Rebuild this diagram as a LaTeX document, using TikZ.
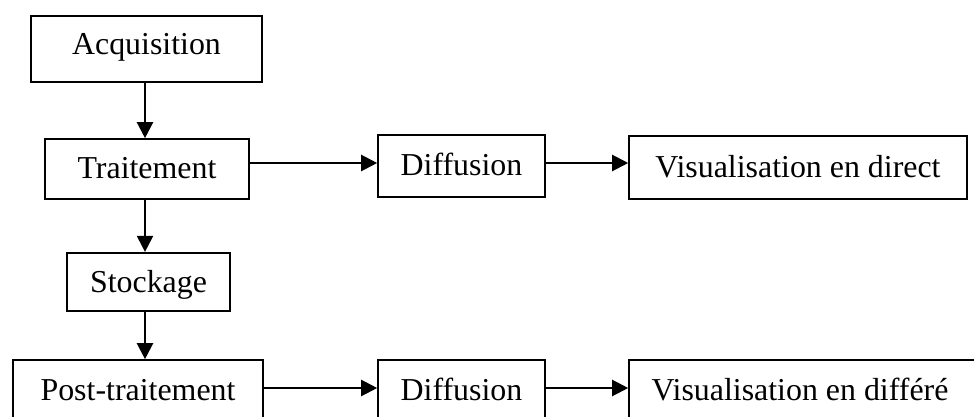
\documentclass[tikz,border=0pt]{standalone}
\usepackage{fontspec}
\setmainfont{Liberation Serif}
\usetikzlibrary{arrows.meta}
\begin{document}
\begin{tikzpicture}[x=1pt,y=-1pt,
  box/.style={draw,line width=1.6pt,rectangle,inner sep=0pt,
    font=\fontsize{31.9}{36}\selectfont,text height=21pt,text depth=3pt},
  arr/.style={line width=2.2pt,-{Triangle[length=16pt,width=16pt]}}]
\clip (0,0) rectangle (974,417);
\fill[white] (0,0) rectangle (974,417);
\node[box,minimum width=231pt,minimum height=66pt,text depth=9pt] (acq) at (146.5,49) {Acquisition};
\node[box,minimum width=204pt,minimum height=60pt] (trait) at (147,169) {Traitement};
\node[box,minimum width=163pt,minimum height=58pt,text depth=0pt] (stock) at (148.5,281.7) {Stockage};
\node[box,minimum width=250pt,minimum height=64pt,text depth=5pt] (post) at (138,392) {Post-traitement};
\node[box,minimum width=167pt,minimum height=62pt] (diffa) at (461.5,166) {Diffusion};
\node[box,minimum width=338pt,minimum height=63pt,text depth=1pt] (visa) at (798,167.3) {Visualisation en direct};
\node[box,minimum width=167pt,minimum height=64pt,text depth=5pt] (diffb) at (461.5,392) {Diffusion};
\node[box,minimum width=356pt,minimum height=64pt,text depth=5pt] (visb) at (807,392) {\hspace*{-14pt}Visualisation en différé};
\draw[arr] ([xshift=-1.5pt]acq.south) -- ([xshift=-2pt]trait.north);
\draw[arr] ([xshift=-2pt]trait.south) -- ([xshift=-3.5pt]stock.north);
\draw[arr] ([xshift=-3.5pt]stock.south) -- ([xshift=7pt]post.north);
\draw[arr] ([yshift=6pt]trait.east) -- ([yshift=3pt]diffa.west);
\draw[arr] ([yshift=3pt]diffa.east) -- ([yshift=4.3pt]visa.west);
\draw[arr] ([yshift=4pt]post.east) -- ([yshift=4pt]diffb.west);
\draw[arr] ([yshift=4pt]diffb.east) -- ([yshift=4pt]visb.west);
\end{tikzpicture}
\end{document}
